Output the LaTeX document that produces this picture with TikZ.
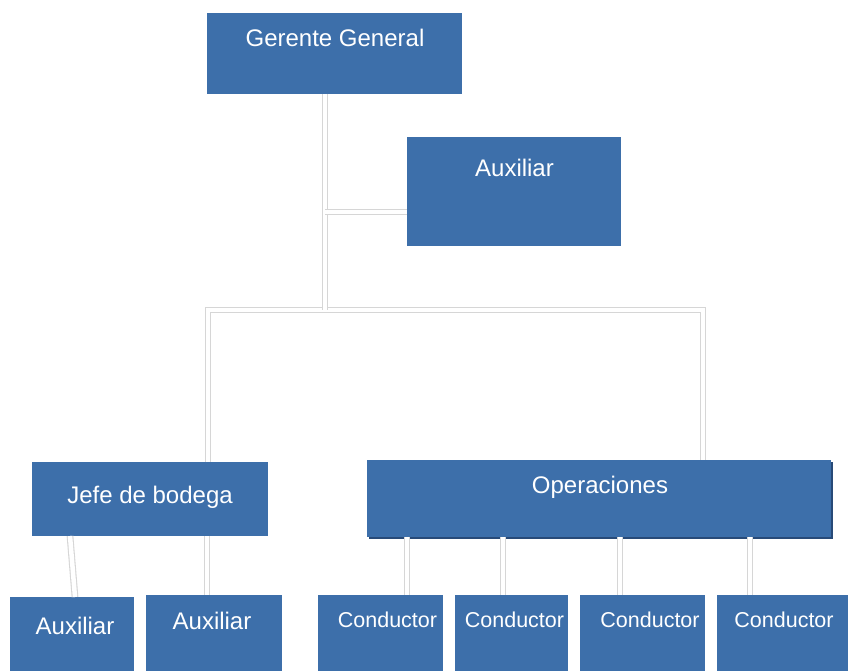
\documentclass[tikz,border=0pt]{standalone}
\usepackage{fontspec}
\setmainfont{Liberation Sans}
\definecolor{boxblue}{RGB}{61,111,170}
\definecolor{boxdark}{RGB}{40,74,120}
\definecolor{connedge}{RGB}{214,214,214}
\begin{document}
\begin{tikzpicture}[x=1pt,y=-1pt,
  box/.style={fill=boxblue,draw=none,inner sep=0pt,outer sep=0pt,anchor=north west},
  lbl/.style={text=white,anchor=base,inner sep=0pt,font=\fontsize{24}{28}\selectfont},
  lbls/.style={lbl,font=\fontsize{21.5}{26}\selectfont},
  conn/.style={draw=connedge,double=white,double distance=4.5pt,line width=1.1pt}]
\useasboundingbox[fill=white] (0,0) rectangle (848,671);
% coordinates for the connector bus
\coordinate (trunk) at (325,310);
\coordinate (barL) at (208,310);
\coordinate (barR) at (703,310);
\coordinate (brA) at (325,212);
% boxes
\node[box,minimum width=255pt,minimum height=81pt] (gg) at (207,13) {};
\node[box,minimum width=214pt,minimum height=109pt] (aux0) at (407,137) {};
\node[box,minimum width=236pt,minimum height=74pt] (jefe) at (32,462) {};
\fill[boxdark] (369,462) rectangle (833,539);
\node[box,minimum width=464pt,minimum height=77pt] (ops) at (367,460) {};
\node[box,minimum width=124pt,minimum height=74pt] (aux1) at (10,597) {};
\node[box,minimum width=136pt,minimum height=76pt] (aux2) at (146,595) {};
\node[box,minimum width=125pt,minimum height=76pt] (c1) at (318,595) {};
\node[box,minimum width=113pt,minimum height=76pt] (c2) at (455,595) {};
\node[box,minimum width=125pt,minimum height=76pt] (c3) at (580,595) {};
\node[box,minimum width=131pt,minimum height=76pt] (c4) at (717,595) {};
% connectors
\draw[conn] (barL |- jefe.north) -- (barL) -- (barR) -- (barR |- ops.north);
\draw[conn] (gg.south -| trunk) -- (trunk);
\draw[conn] (brA) -- (brA -| aux0.west);
\draw[conn] (jefe.south -| 70,0) -- (aux1.north -| 75,0);
\draw[conn] (jefe.south -| 207,0) -- (aux2.north -| 207,0);
\draw[conn] (ops.south -| 407,0) -- (c1.north -| 407,0);
\draw[conn] (ops.south -| 503,0) -- (c2.north -| 503,0);
\draw[conn] (ops.south -| 620,0) -- (c3.north -| 620,0);
\draw[conn] (ops.south -| 750,0) -- (c4.north -| 750,0);
% labels
\node[lbl] (tgg) at (335,47) {Gerente General};
\node[lbl] (taux0) at (514.5,177) {Auxiliar};
\node[lbl] (tjefe) at (150,503) {Jefe de bodega};
\node[lbl] (tops) at (600,493) {Operaciones};
\node[lbl] (taux1) at (75,634) {Auxiliar};
\node[lbl] (taux2) at (212,629) {Auxiliar};
\node[lbls] (tc1) at (387.5,627) {Conductor};
\node[lbls] (tc2) at (514.5,627) {Conductor};
\node[lbls] (tc3) at (650,627) {Conductor};
\node[lbls] (tc4) at (784,627) {Conductor};
\end{tikzpicture}
\end{document}
